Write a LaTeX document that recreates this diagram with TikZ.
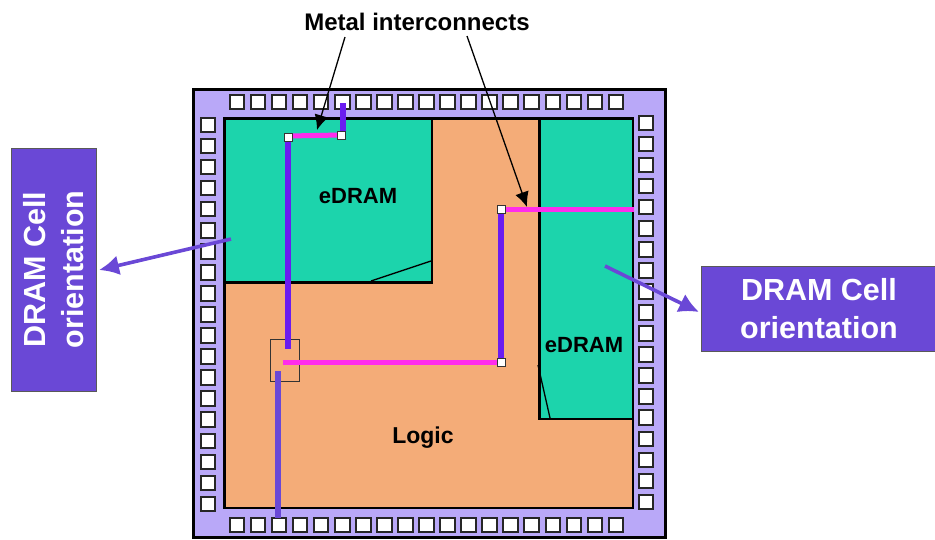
\documentclass[tikz,border=0pt]{standalone}
\usepackage{fontspec}
\setmainfont{Liberation Sans}
\usetikzlibrary{positioning, arrows.meta}

\begin{document}
\begin{tikzpicture}[
    x=1pt, y=-1pt,
    every node/.style={align=center, font=\bfseries},
    chip/.style={draw=black, line width=2.6pt, fill=chipviolet},
    region/.style={draw=black, line width=2.6pt, anchor=north west, inner sep=0pt},
    pad/.style={draw=black!85, line width=2pt, fill=white, minimum size=14.5pt, inner sep=0pt},
    via/.style={draw=black!80, line width=1pt, fill=white, minimum size=8pt, inner sep=0pt},
    callout/.style={fill=cellviolet, draw=black!65, line width=0.8pt, text=white, font=\bfseries\fontsize{30.5}{38.5}\selectfont},
    region text/.style={font=\bfseries\fontsize{22}{26}\selectfont},
    metal v/.style={draw=wireblue, line width=5.5pt},
    metal h/.style={draw=wiremagenta, line width=5pt},
    pointer/.style={draw=cellviolet, line width=3.6pt, -{Latex[length=20pt,width=20pt]}},
    leader/.style={draw=black, line width=1.3pt, -{Latex[length=15pt,width=14pt]}}
]
\definecolor{chipviolet}{HTML}{B9A8F8}
\definecolor{cellviolet}{HTML}{6A48D6}
\definecolor{wireblue}{HTML}{6A1CF0}
\definecolor{wiremagenta}{HTML}{FF2CEC}
\definecolor{logicorange}{HTML}{F4AC78}
\definecolor{dramgreen}{HTML}{1CD4AC}

\useasboundingbox (0,0) rectangle (935,539);

% Die and core
\node[chip, anchor=north west, inner sep=0pt, minimum width=472pt, minimum height=448pt] (die) at (192,88) {};
\node[region, fill=logicorange, minimum width=408.5pt, minimum height=389.5pt] (logic) at (223,117) {};

% Bond pads
\foreach \i in {0,...,18} {
    \node[pad] (top\i) at (237+21.05*\i,102) {};
    \node[pad] (bottom\i) at (237+21.05*\i,525) {};
    \node[pad] (left\i) at (208,125+21.05*\i) {};
    \node[pad] (right\i) at (646,123+21.05*\i) {};
}

% eDRAM blocks
\node[region, fill=dramgreen, minimum width=207.5pt, minimum height=164pt] (dramA) at (223,117) {};
\node[region, fill=dramgreen, minimum width=93.5pt, minimum height=300.5pt] (dramB) at (538,117) {};
\draw[black, line width=1.3pt] (371,281) -- (431,261);
\draw[black, line width=1.3pt] (538,365) -- (550,418);

% Labels
\node[region text] (dramAtext) at (358,196) {eDRAM};
\node[region text] (dramBtext) at (584,345) {eDRAM};
\node[region text, font=\bfseries\fontsize{23}{27}\selectfont] (logictext) at (423,438) {Logic};
\node[font=\bfseries\fontsize{24}{28}\selectfont] (metal) at (417,22) {Metal interconnects};

% Crossing box
\node[draw=black!80, line width=1pt, anchor=north west, minimum width=29pt, minimum height=42pt, inner sep=0pt] (cross) at (270,339) {};

% Vias
\coordinate (padtap) at (343,103);
\coordinate (edgetap) at (634,209);
\coordinate (crossA) at (288,349);
\coordinate (crossB) at (283,362);
\coordinate (crossC) at (278,371);
\coordinate (bottomtap) at (278,518);

% Metal
\draw[metal v] (padtap) -- (343,135);
\draw[metal v] (288,137) -- (crossA);
\draw[metal v] (501,209) -- (501,362);
\draw[metal v, draw=cellviolet] (crossC) -- (bottomtap);
\draw[metal h] (288,136) -- (341,135);
\draw[metal h] (501,209) -- (edgetap);
\draw[metal h] (crossB) -- (501,362);
\node[via] (viaA) at (288,137) {};
\node[via] (viaB) at (341,135) {};
\node[via] (viaC) at (501,209) {};
\node[via] (viaD) at (501,362) {};

% Callouts
\node[callout, rotate=90, minimum width=243pt, minimum height=85pt] (cellleft) at (53.5,269.5) {DRAM Cell\\orientation};
\node[callout, minimum width=236pt, minimum height=85pt] (cellright) at (819,308.5) {DRAM Cell\\orientation};

% Arrows
\coordinate (startleft) at (231,239);
\coordinate (tipleft) at (99,270);
\coordinate (startright) at (605,266);
\coordinate (tipright) at (699,312);
\coordinate (tipA) at (317,130);
\coordinate (tipB) at (527,207);
\draw[pointer] (startleft) -- (tipleft);
\draw[pointer] (startright) -- (tipright);
\draw[leader] (345,37) -- (tipA);
\draw[leader] (467,36) -- (tipB);

\end{tikzpicture}
\end{document}
